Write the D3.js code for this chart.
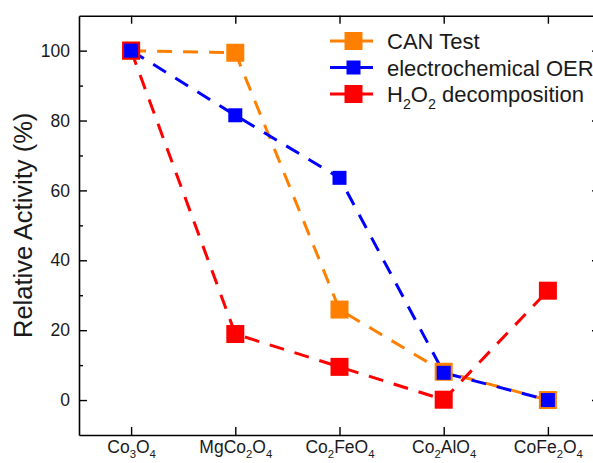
<!DOCTYPE html>
<html>
<head>
<meta charset="utf-8">
<script src="https://cdn.jsdelivr.net/npm/d3@7"></script>
<style>
  body { margin: 0; background: #fff; overflow: hidden; }
  svg { display: block; overflow: hidden; }
  text { font-family: "Liberation Sans", Arial, sans-serif; fill: #1a1a1a; }
</style>
</head>
<body>
<div id="chart"></div>
<script>
// chart data
var categories = ["Co3O4", "MgCo2O4", "Co2FeO4", "Co2AlO4", "CoFe2O4"];
var canTest = [100, 99.4, 25.9, 8.1, 0];
var oer = [100, 81.5, 63.6, 7.8, 0];
var h2o2 = [100, 18.9, 9.5, 0.1, 31.3];
var yTicks = [0, 20, 40, 60, 80, 100];
var yMinor = [10, 30, 50, 70, 90];

var series = [
    {name: "CAN Test", values: canTest, color: "#ff8000", size: 18},
    {name: "electrochemical OER", values: oer, color: "#0000ff", size: 14},
    {name: "H2O2 decomposition", values: h2o2, color: "#ff0000", size: 18}
];

var svgWidth = 593;
var svgHeight = 463;
var margin = {top: 15.7, right: -7, bottom: 28, left: 79};
var width = svgWidth - margin.left - margin.right;
var height = svgHeight - margin.top - margin.bottom;

var svg = d3.select("#chart")
    .append("svg")
    .attr("width", svgWidth)
    .attr("height", svgHeight);

var chartGroup = svg.append("g")
    .attr("transform", `translate(${margin.left}, ${margin.top})`);

var xScale = d3.scaleLinear()
    .domain([-0.5, categories.length - 0.5])
    .range([0, width]);

var yScale = d3.scaleLinear()
    .domain([-10, 110])
    .range([height, 0]);

// write chemical formula with subscript digits
function formula(sel, str, size) {
    var parts = str.split(/(\d+)/).filter(p => p !== "");
    var shifted = false;
    parts.forEach(function(p) {
        var isSub = /^\d+$/.test(p);
        var dy = null;
        if (isSub && !shifted) { dy = size * 0.3; shifted = true; }
        else if (!isSub && shifted) { dy = -size * 0.3; shifted = false; }
        sel.append("tspan")
            .attr("dy", dy)
            .attr("font-size", isSub ? size * 0.65 : size)
            .text(p);
    });
}

// axes, all ticks point inward
var bottomAxis = d3.axisBottom(xScale)
    .tickValues(d3.range(categories.length))
    .tickSizeInner(-8)
    .tickSizeOuter(0)
    .tickPadding(11)
    .tickFormat(i => categories[i]);
var topAxis = d3.axisTop(xScale)
    .tickValues(d3.range(categories.length))
    .tickSizeInner(-8)
    .tickSizeOuter(0)
    .tickFormat("");
var leftAxis = d3.axisLeft(yScale)
    .tickValues(yTicks)
    .tickSizeInner(-8)
    .tickSizeOuter(0)
    .tickPadding(9);
var leftMinor = d3.axisLeft(yScale)
    .tickValues(yMinor)
    .tickSizeInner(-4)
    .tickSizeOuter(0)
    .tickFormat("");
var rightAxis = d3.axisRight(yScale)
    .tickValues(yTicks)
    .tickSizeInner(-8)
    .tickSizeOuter(0)
    .tickFormat("");

var xAxis = chartGroup.append("g")
    .attr("transform", `translate(0, ${height})`)
    .call(bottomAxis);
chartGroup.append("g").call(topAxis);
var yAxis = chartGroup.append("g").call(leftAxis);
chartGroup.append("g").call(leftMinor)
    .select(".domain").remove();
// right axis line sits just past the window edge, only tick stubs show
chartGroup.append("g")
    .attr("transform", `translate(${width}, 0)`)
    .call(rightAxis)
    .select(".domain").remove();

chartGroup.selectAll(".domain")
    .attr("stroke", "#000")
    .attr("stroke-width", 1.6);
chartGroup.selectAll(".tick line")
    .attr("stroke", "#000")
    .attr("stroke-width", 1.4);

yAxis.selectAll("text")
    .attr("font-size", 17.5)
    .attr("font-family", "Liberation Sans, Arial, sans-serif")
    .attr("fill", "#1a1a1a");

xAxis.selectAll("text")
    .attr("font-family", "Liberation Sans, Arial, sans-serif")
    .attr("fill", "#1a1a1a")
    .each(function(i) {
        var t = d3.select(this).text(null);
        formula(t, categories[i], 17.5);
    });

// y axis title
chartGroup.append("text")
    .attr("transform", `translate(-47, ${height / 2}) rotate(-90)`)
    .attr("text-anchor", "middle")
    .attr("font-size", 25.5)
    .text("Relative Activity (%)");

// dashed lines
var line = d3.line()
    .x((d, i) => xScale(i))
    .y(d => yScale(d));

series.forEach(function(s) {
    chartGroup.append("path")
        .datum(s.values)
        .attr("fill", "none")
        .attr("stroke", s.color)
        .attr("stroke-width", 3)
        .attr("stroke-dasharray", "15,11")
        .attr("d", line);
});

// square markers: orange, red, then blue on top
[series[0], series[2], series[1]].forEach(function(s) {
    chartGroup.append("g")
        .selectAll("rect")
        .data(s.values)
        .enter()
        .append("rect")
        .attr("x", (d, i) => xScale(i) - s.size / 2)
        .attr("y", d => yScale(d) - s.size / 2)
        .attr("width", s.size)
        .attr("height", s.size)
        .attr("fill", s.color);
});

// legend
var legend = svg.append("g")
    .attr("transform", "translate(330, 41)");

series.forEach(function(s, i) {
    var row = legend.append("g")
        .attr("transform", `translate(0, ${i * 26.5})`);
    row.append("line")
        .attr("x1", 0)
        .attr("x2", 43)
        .attr("stroke", s.color)
        .attr("stroke-width", 3);
    row.append("rect")
        .attr("x", 23.5 - s.size / 2)
        .attr("y", -s.size / 2)
        .attr("width", s.size)
        .attr("height", s.size)
        .attr("fill", s.color);
    var t = row.append("text")
        .attr("x", 57)
        .attr("y", 8)
        .attr("font-size", 22);
    formula(t, s.name, 22);
});
</script>
</body>
</html>
